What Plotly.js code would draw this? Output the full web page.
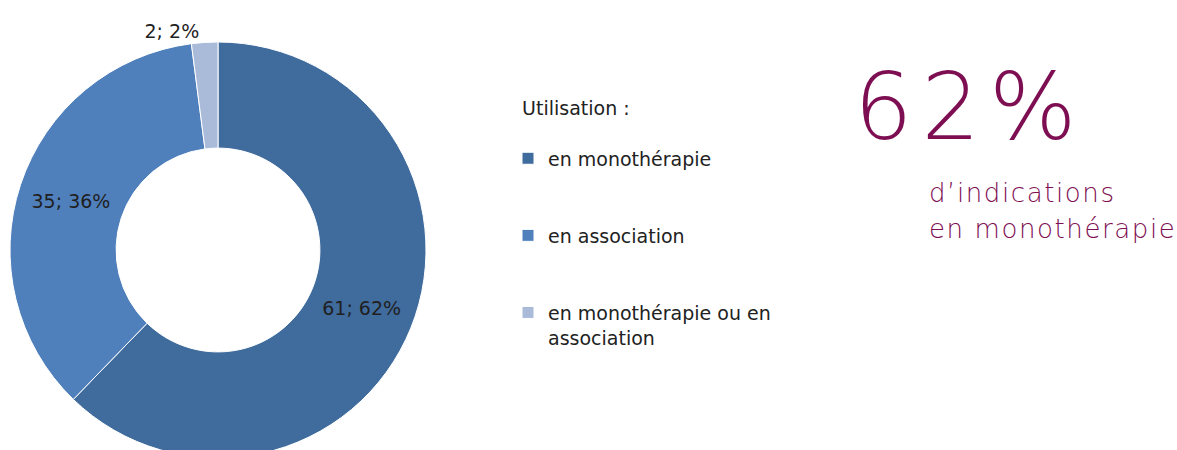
<!DOCTYPE html>
<html>
<head>
<meta charset="utf-8">
<script src="https://cdn.plot.ly/plotly-3.0.1.min.js"></script>
<style>
html,body{margin:0;padding:0;background:#fff;overflow:hidden;}
#chart{width:1177px;height:470px;}
</style>
</head>
<body>
<div id="chart"></div>
<script>
// Data
const categories = ["en monothérapie", "en association", "en monothérapie ou en<br>association"];
const counts = [61, 35, 2];
const percents = [62, 36, 2];
const sliceColors = ["#406B9D", "#4F80BC", "#A9BBD9"];
const legendTitle = "Utilisation :";
const bigNumber = "62%";
const subLines = ["d’indications", "en monothérapie"];

const H = 470, W = 1177;
const py = p => (H - p) / H;   // pixel from top -> paper y
const px = p => p / W;

const labels = categories.map(c => c + "<br> <br> ");
const texts = counts.map((c, i) => c + "; " + percents[i] + "%");
const FONT = "DejaVu Sans, sans-serif";
const purple = "#7E0E52";

const trace = {
  type: "pie",
  values: counts,
  labels: labels,
  text: texts,
  textinfo: "text",
  hoverinfo: "none",
  hole: 0.49,
  sort: false,
  direction: "clockwise",
  rotation: 0,
  marker: {colors: sliceColors, line: {color: "#ffffff", width: 1}},
  textposition: ["inside", "inside", "outside"],
  insidetextorientation: "horizontal",
  textfont: {family: FONT, size: 19, color: "#1f1f1f"},
  outsidetextfont: {family: FONT, size: 19, color: "#1f1f1f"},
  domain: {x: [px(10), px(426)], y: [py(458), py(42)]}
};

const spaced = (t, s) => "<span style='letter-spacing:" + s + "px'>" + t + "</span>";

const layout = {
  width: W, height: H,
  margin: {l: 0, r: 0, t: 0, b: 0},
  paper_bgcolor: "#ffffff",
  showlegend: true,
  legend: {
    x: px(508), y: py(90), xanchor: "left", yanchor: "top",
    valign: "top",
    font: {family: FONT, size: 19, color: "#222222"},
    title: {text: "&nbsp;&nbsp;" + legendTitle + "<br> ", font: {family: FONT, size: 19, color: "#222222"}},
    bgcolor: "rgba(0,0,0,0)"
  },
  annotations: [
    {xref: "paper", yref: "paper", x: px(852), y: py(107), xanchor: "left", yanchor: "middle",
     text: spaced(bigNumber, 9), showarrow: false,
     font: {family: FONT, size: 92, color: purple, weight: 200}},
    {xref: "paper", yref: "paper", x: px(927), y: py(193), xanchor: "left", yanchor: "middle",
     text: spaced(subLines[0], 1.6), showarrow: false,
     font: {family: FONT, size: 26, color: purple, weight: 200}},
    {xref: "paper", yref: "paper", x: px(927), y: py(229), xanchor: "left", yanchor: "middle",
     text: spaced(subLines[1], 1.6), showarrow: false,
     font: {family: FONT, size: 26, color: purple, weight: 200}}
  ]
};

Plotly.newPlot("chart", [trace], layout, {displayModeBar: false, staticPlot: true});
</script>
</body>
</html>
